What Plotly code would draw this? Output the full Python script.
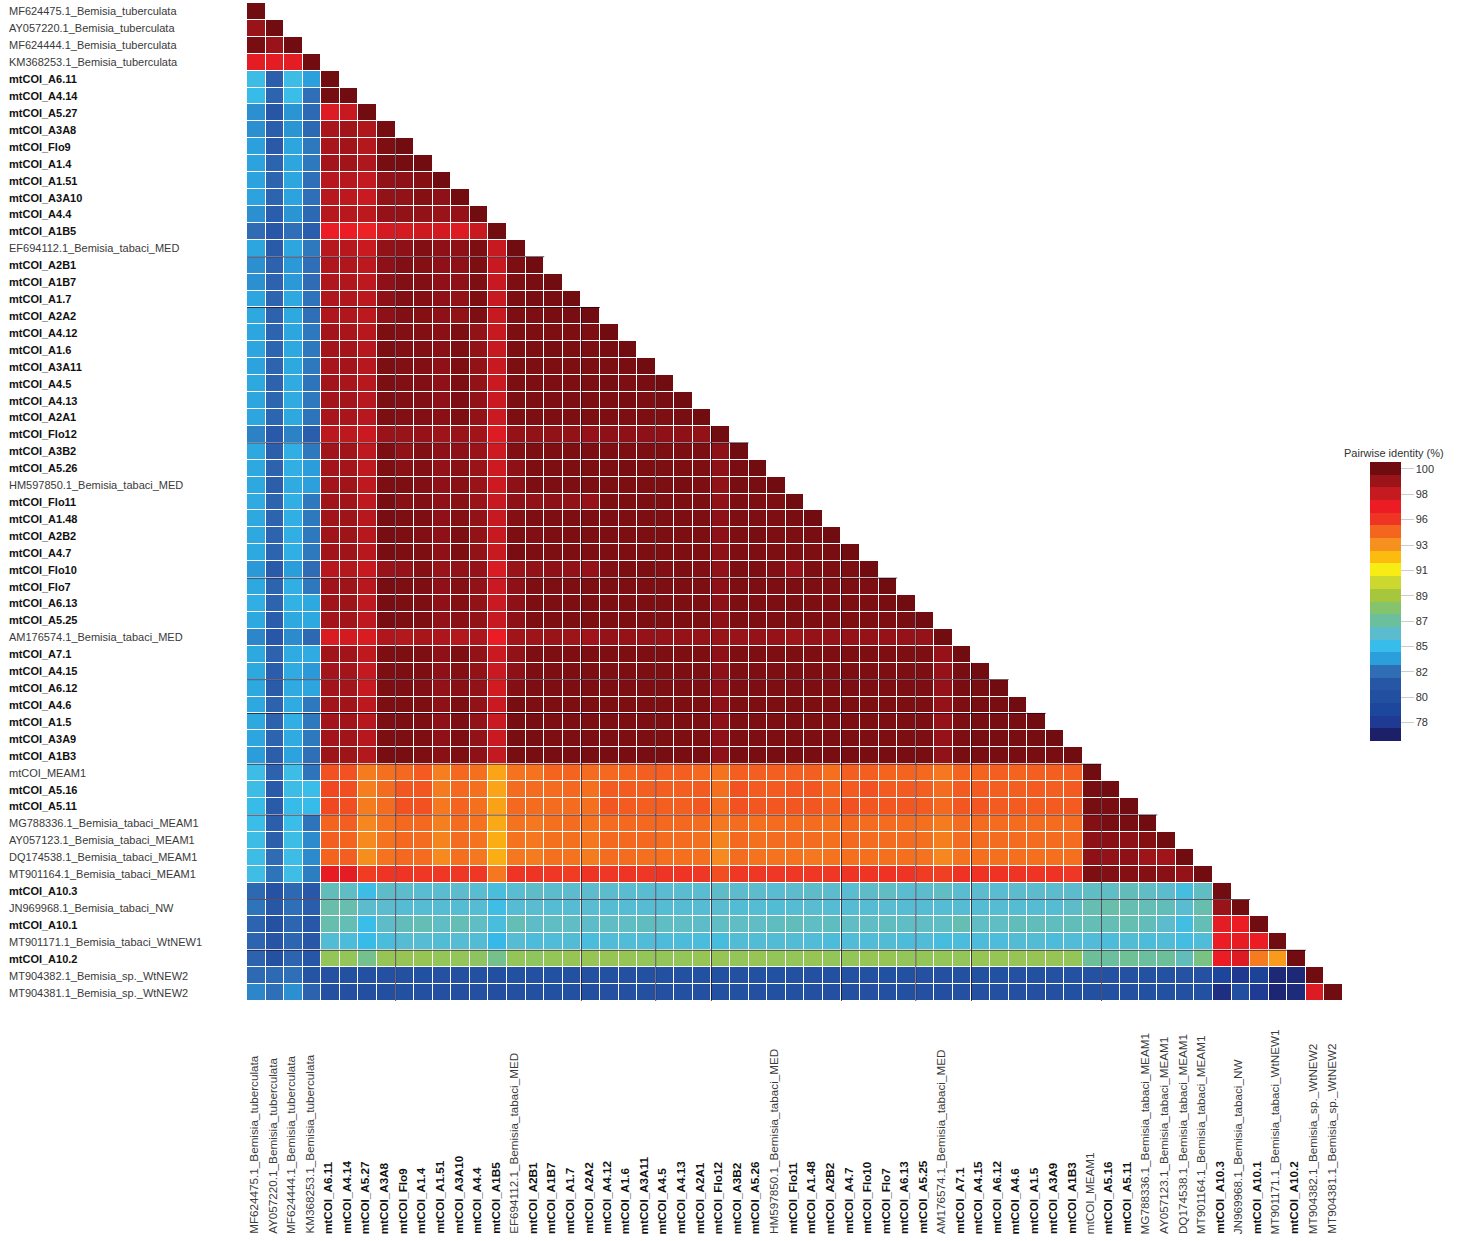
import plotly.graph_objects as go

W, H = 1461, 1241
FONT = "Liberation Sans, Arial, sans-serif"

labels = [
 "MF624475.1_Bemisia_tuberculata","AY057220.1_Bemisia_tuberculata","MF624444.1_Bemisia_tuberculata","KM368253.1_Bemisia_tuberculata",
 "mtCOI_A6.11","mtCOI_A4.14","mtCOI_A5.27","mtCOI_A3A8","mtCOI_Flo9","mtCOI_A1.4","mtCOI_A1.51","mtCOI_A3A10","mtCOI_A4.4","mtCOI_A1B5",
 "EF694112.1_Bemisia_tabaci_MED","mtCOI_A2B1","mtCOI_A1B7","mtCOI_A1.7","mtCOI_A2A2","mtCOI_A4.12","mtCOI_A1.6","mtCOI_A3A11","mtCOI_A4.5",
 "mtCOI_A4.13","mtCOI_A2A1","mtCOI_Flo12","mtCOI_A3B2","mtCOI_A5.26","HM597850.1_Bemisia_tabaci_MED","mtCOI_Flo11","mtCOI_A1.48","mtCOI_A2B2",
 "mtCOI_A4.7","mtCOI_Flo10","mtCOI_Flo7","mtCOI_A6.13","mtCOI_A5.25","AM176574.1_Bemisia_tabaci_MED","mtCOI_A7.1","mtCOI_A4.15","mtCOI_A6.12",
 "mtCOI_A4.6","mtCOI_A1.5","mtCOI_A3A9","mtCOI_A1B3","mtCOI_MEAM1","mtCOI_A5.16","mtCOI_A5.11","MG788336.1_Bemisia_tabaci_MEAM1",
 "AY057123.1_Bemisia_tabaci_MEAM1","DQ174538.1_Bemisia_tabaci_MEAM1","MT901164.1_Bemisia_tabaci_MEAM1","mtCOI_A10.3","JN969968.1_Bemisia_tabaci_NW",
 "mtCOI_A10.1","MT901171.1_Bemisia_tabaci_WtNEW1","mtCOI_A10.2","MT904382.1_Bemisia_sp._WtNEW2","MT904381.1_Bemisia_sp._WtNEW2",
]
plain_labels = ["mtCOI_MEAM1"]

identity_rows = [
[100],
[99,100],
[99.8,99,100],
[97,97,97,100],
[84.8,81.8,84.8,83.6,100],
[84.6,82,84.7,82.5,99.9,100],
[83.2,81.3,83.3,82.3,97.2,97.8,100],
[83.2,81.8,83.3,82.2,98.6,98.8,98.4,99.9],
[83.6,81.5,83.8,82.7,98.6,98.8,98.3,99.7,100],
[83.7,82,83.8,82.7,98.7,98.8,98.4,99.8,99.9,100],
[83.7,82,83.8,82.5,98.2,98.2,97.9,99.2,99.3,99.5,100],
[83.7,82,83.7,82.5,98.2,98.1,97.7,99.2,99.2,99.5,99.3,100],
[83.2,81.7,83.3,82.2,98.2,98.2,98.1,99.1,99.2,99.2,99,99.1,100],
[82.4,81.4,82.5,81.7,96.8,96.8,96.5,97.4,97.4,97.6,97.5,97.2,97.8,100],
[83.8,81.6,83.8,82.7,98.2,98.2,97.7,99.2,99.3,99.6,99.3,99.3,99.7,97.8,100],
[83.2,81.9,83.4,82.5,98.4,98.4,98.1,99.3,99.6,99.5,99.3,99.3,99.7,97.8,99.7,100],
[83.2,81.9,83.4,82.4,98.4,98.4,98.1,99.3,99.6,99.6,99.3,99.3,99.7,97.8,99.7,99.8,100],
[83.8,82,83.9,82.6,98.4,98.4,98.1,99.3,99.6,99.5,99.3,99.2,99.7,97.8,99.7,99.8,99.8,100],
[83.9,81.9,83.9,82.5,98.4,98.4,98.1,99.3,99.6,99.5,99.3,99.2,99.7,97.8,99.7,99.7,99.8,99.8,100],
[83.8,82,83.8,82.7,98.7,98.6,98.2,99.7,99.6,99.6,99.4,99.7,99.2,97.8,99.7,99.7,99.7,99.7,99.7,100],
[83.8,82.1,83.9,82.7,98.7,98.7,98.2,99.7,99.6,99.6,99.4,99.7,99.2,97.8,99.7,99.7,99.8,99.7,99.7,99.8,100],
[83.7,82,83.9,82.7,98.6,98.7,98.2,99.7,99.6,99.6,99.3,99.7,99.2,97.8,99.7,99.7,99.7,99.7,99.7,99.7,99.8,100],
[83.9,81.9,84,82.6,98.7,98.6,98.2,99.7,99.6,99.6,99.3,99.7,99.2,97.7,99.7,99.7,99.7,99.7,99.7,99.8,99.7,99.8,100],
[83.8,82.1,84,82.7,98.7,98.7,98.2,99.7,99.6,99.6,99.3,99.7,99.2,97.7,99.7,99.7,99.7,99.7,99.7,99.7,99.8,99.7,99.8,100],
[83.8,82.1,83.9,82.6,98.6,98.6,98.2,99.7,99.6,99.6,99.4,99.7,99.2,97.7,99.7,99.7,99.7,99.7,99.7,99.7,99.7,99.7,99.7,99.8,100],
[82.9,81.5,82.9,81.7,98.1,98.1,97.7,99,99,99.1,98.9,99,98.8,97.2,99.1,99.2,99.2,99.2,99.1,99.3,99.3,99.3,99.3,99.3,99.2,100],
[83.9,81.8,84.1,82.7,98.8,98.8,98,99.7,99.2,99.6,99.3,99.3,99,97.6,99.6,99.7,99.7,99.7,99.7,99.7,99.7,99.7,99.7,99.7,99.7,99.3,100],
[83.9,81.9,84.1,83.5,98.7,98.7,98,99.7,99.4,99.6,99.2,99.4,99,97.6,99.3,99.7,99.7,99.7,99.7,99.7,99.8,99.7,99.7,99.7,99.7,99.3,99.8,100],
[83.9,81.8,84,83.6,98.7,98.8,98,99.7,99.7,99.6,99.3,99.4,99,97.6,99.3,99.7,99.7,99.7,99.7,99.7,99.7,99.7,99.7,99.8,99.7,99.2,99.8,99.8,100],
[84,82,84.1,82.7,98.8,98.8,98,99.8,99.4,99.6,99.3,99.4,99,97.8,99.3,99.2,99.3,99.2,99.1,99.7,99.7,99.7,99.7,99.7,99.7,99.2,99.7,99.7,99.7,100],
[83.9,82,84.1,82.7,98.8,98.9,98.2,99.8,99.7,99.7,99.3,99.5,99.2,97.8,99.5,99.7,99.7,99.7,99.7,99.7,99.7,99.7,99.7,99.7,99.7,99.3,99.7,99.7,99.7,99.8,100],
[83.9,82,84.1,82.7,98.8,98.9,98.2,99.8,99.7,99.6,99.3,99.7,99.2,97.8,99.7,99.6,99.7,99.7,99.7,99.7,99.7,99.7,99.7,99.7,99.7,99.3,99.7,99.8,99.7,99.7,99.8,100],
[83.9,82,84.1,82.7,98.8,98.9,98.2,99.8,99.7,99.7,99.3,99.7,99.2,97.8,99.8,99.7,99.7,99.7,99.7,99.7,99.7,99.7,99.7,99.7,99.7,99.3,99.7,99.7,99.7,99.7,99.7,99.8,100],
[83.4,81.6,83.5,82.4,98.2,98.3,97.8,99,99.1,99.5,99,99.2,99.1,97.3,99,99.2,99.3,99.2,99.1,99.6,99.7,99.7,99.6,99.7,99.6,99.2,99.7,99.7,99.6,99.1,99.7,99.7,99.7,100],
[83.9,82,84.1,82.7,98.8,98.9,98.2,99.8,99.7,99.7,99.3,99.5,99.2,97.7,99.3,99.7,99.7,99.7,99.7,99.7,99.7,99.7,99.7,99.7,99.7,99.3,99.7,99.7,99.7,99.7,99.7,99.7,99.7,99.7,100],
[84.1,82,84.2,83.9,98.8,98.9,98,99.8,99.7,99.7,99.3,99.5,99.2,97.7,99.3,99.7,99.7,99.7,99.7,99.7,99.7,99.7,99.7,99.7,99.7,99.3,99.7,99.7,99.7,99.7,99.7,99.7,99.7,99.7,99.8,100],
[83.9,81.7,83.9,83.9,98.7,98.8,98,99.8,99.7,99.7,99.2,99.4,99.2,97.8,99.3,99.7,99.7,99.7,99.7,99.7,99.7,99.7,99.7,99.7,99.7,99.3,99.7,99.7,99.7,99.7,99.7,99.7,99.7,99.7,99.7,99.8,100],
[83,81.4,83.1,82.2,97.3,97.5,97.3,98.4,98.3,98.6,98.5,98.3,98.5,96.8,98.8,98.9,99,98.9,98.8,99.1,99.1,99.1,99.1,99.1,99.1,99,99,99.1,99.1,98.9,99.1,99.1,99.1,99.1,99.1,99.1,99.1,100],
[83.9,81.9,84,84,98.8,98.8,98,99.7,99.7,99.7,99.3,99.7,99.2,97.7,99.2,99.7,99.7,99.7,99.7,99.7,99.7,99.7,99.7,99.7,99.7,99.3,99.7,99.7,99.7,99.7,99.7,99.7,99.7,99.7,99.7,99.7,99.7,99.1,100],
[83.9,81.7,84,83.4,98.7,98.7,97.9,99.7,99.7,99.7,99.3,99.5,99.2,97.7,99.3,99.7,99.7,99.7,99.7,99.7,99.7,99.7,99.7,99.7,99.7,99.3,99.7,99.7,99.7,99.7,99.7,99.7,99.7,99.7,99.7,99.7,99.7,99.1,99.8,100],
[83.9,81.6,84,83.8,98.7,98.7,97.8,99.7,99.7,99.6,99.2,99.4,99.2,97.5,99.5,99.7,99.7,99.7,99.7,99.7,99.7,99.7,99.7,99.7,99.7,99.3,99.7,99.7,99.7,99.7,99.7,99.7,99.7,99.7,99.7,99.7,99.7,99.1,99.8,99.8,100],
[83.9,81.9,84,82.7,98.7,98.8,98.1,99.7,99.7,99.7,99.3,99.7,99.2,97.7,99.8,99.7,99.7,99.7,99.7,99.7,99.7,99.7,99.7,99.7,99.7,99.3,99.7,99.7,99.7,99.7,99.7,99.7,99.7,99.7,99.7,99.7,99.7,99.1,99.7,99.8,99.8,100],
[83.9,81.9,84.1,82.7,98.7,98.8,98.2,99.7,99.7,99.7,99.3,99.7,99.2,97.7,99.8,99.8,99.7,99.7,99.7,99.7,99.7,99.7,99.7,99.7,99.7,99.3,99.7,99.7,99.7,99.7,99.7,99.7,99.7,99.7,99.7,99.7,99.7,99.1,99.7,99.8,99.8,99.8,100],
[83.8,82,84,82.7,98.7,98.8,98.2,99.7,99.7,99.7,99.3,99.7,99.2,97.7,99.8,99.8,99.7,99.7,99.7,99.7,99.7,99.7,99.7,99.7,99.7,99.3,99.7,99.7,99.7,99.7,99.7,99.7,99.7,99.7,99.7,99.7,99.7,99.1,99.7,99.8,99.8,99.8,99.9,100],
[83.5,81.8,83.7,82.5,98.9,98.9,98.3,99.8,99.8,99.7,99.4,99.7,99.3,97.9,99.8,99.8,99.8,99.8,99.8,99.8,99.8,99.8,99.8,99.8,99.8,99.3,99.8,99.8,99.8,99.8,99.8,99.8,99.8,99.8,99.8,99.8,99.8,99.2,99.8,99.8,99.8,99.8,99.8,99.8,100],
[84.8,81.9,84.8,82.6,95,95,94,94.3,94.5,94.8,93.9,94.5,94.3,92.9,94.2,94.2,94.6,94.6,94.4,94.5,94.6,94.7,94.7,94.7,94.5,94.2,94.7,94.7,94.7,94.7,94.7,94.3,94.7,94.7,94.6,94.6,94.5,94.1,94.6,94.6,94.7,94.6,94.7,94.7,94.7,100],
[84.8,81.6,84.8,84.7,95.2,95.1,93.9,94.4,94.9,94.9,94,94.5,94.3,92.9,94.4,94.4,94.4,94.5,94.3,94.8,94.8,94.7,94.7,94.7,94.8,94.3,95,94.8,94.8,94.9,94.9,94.6,94.8,95,94.8,94.8,94.7,94.4,94.8,94.8,94.7,94.7,94.8,94.7,94.8,99.8,100],
[84.6,81.6,84.6,84.6,95.2,95.1,94,94.4,95,95,94.1,94.6,94.3,93,94.5,94.4,94.4,94.4,94.3,94.9,94.8,94.7,94.7,94.7,94.9,94.4,95,94.9,94.9,94.9,94.9,94.7,95,94.9,94.9,94.9,94.8,94.5,94.9,94.9,94.8,94.8,94.8,94.8,94.8,99.8,99.8,100],
[84.7,81.8,84.7,82.6,94.6,94.7,93.7,94.2,94.5,94.5,93.9,94.4,94.2,92.8,94.2,94.1,94.3,94.4,94.2,94.4,94.5,94.5,94.5,94.5,94.4,94.1,94.4,94.3,94.4,94.4,94.4,94.3,94.5,94.4,94.4,94.4,94.3,94,94.4,94.4,94.4,94.4,94.4,94.4,94.4,99.5,99.8,99.8,100],
[84.8,81.8,84.8,83.1,94.7,94.6,93.6,94.2,94.5,94.4,93.8,94.4,94.2,92.7,94.2,94.1,94.3,94.3,94.1,94.5,94.5,94.5,94.4,94.4,94.3,93.8,94.5,94.3,94.4,94.4,94.4,94.3,94.5,94.4,94.4,94.4,94.3,93.9,94.4,94.4,94.4,94.4,94.4,94.4,94.4,99.3,99.4,99.3,99.5,100],
[84.8,82.4,84.8,83.1,94.6,94.7,93.5,94.2,94.5,94.4,93.6,94.3,94.1,92.7,94.1,94,94.3,94.2,94,94.4,94.4,94.3,94.3,94.3,94.3,93.6,94.4,94.2,94.2,94.2,94.1,94.2,94.3,94.3,94.3,94.3,94.2,93.7,94.2,94.3,94.3,94.3,94.3,94.3,94.3,99.3,99.2,99.3,98.9,98.8,100],
[84.9,82.6,84.9,82.8,96.9,97,95.5,95.7,95.7,95.6,95.6,95.6,95.6,94.1,95.7,95.7,95.6,95.5,95.7,95.6,95.7,95.6,95.7,95.7,95.6,95.1,95.6,95.6,95.6,95.6,95.6,95.6,95.7,95.7,95.8,95.7,95.5,95.4,95.8,95.8,95.8,95.7,95.7,95.8,95.6,99.7,99.6,99.5,99.5,99.4,99.1,100],
[82.2,80.8,82.2,81.4,86.2,86,84.8,85.9,85.8,85.7,85.7,85.8,85.7,85.2,85.7,85.9,85.8,85.8,85.8,85.8,85.7,85.7,85.7,85.7,85.7,85.9,85.8,85.8,85.7,85.8,85.9,85.8,85.7,85.9,86,85.7,85.8,86,85.7,85.8,85.7,85.8,85.8,85.8,85.8,86,86,86.2,86,85.8,85.1,86,100],
[82.6,81.4,82.5,81.7,86.6,86.5,85.8,85.8,85.6,85.6,85.6,85.6,85.6,84.9,85.6,85.7,85.6,85.6,85.7,85.6,85.6,85.6,85.6,85.6,85.6,85.7,85.5,85.6,85.5,85.6,85.7,85.6,85.6,85.6,85.7,85.6,85.6,85.6,85.6,85.6,85.6,85.6,85.6,85.6,85.9,86.4,86.6,86.4,86.3,86.2,85.7,86.5,99,100],
[82,80.6,82.1,81.4,86.5,86.3,84.7,85.9,86.2,86.3,86,86.3,86,85.2,86.3,85.9,86,86,85.9,86,86,86.1,86,86,85.9,86,86,86,86.1,86.2,86,86.1,86,86,86.1,86,86,86,86.4,86,86,86.2,86.2,86.1,86.2,86.3,86.3,86.4,86.2,85.8,85,86.3,97,96.8,100],
[82,81.1,82.1,81.4,85.5,85.3,84.6,85.2,85.6,85.6,85.5,85.6,85.5,84.5,85.6,85.3,85.4,85.5,85.2,85.4,85.4,85.4,85.3,85.3,85.2,85.1,85.5,85.5,85.5,85.5,85.4,85.3,85.4,85.4,85.5,85.3,85.4,85.1,85.2,85.3,85.3,85.5,85.5,85.3,85.4,85.4,85.3,85.5,85.3,85.4,85,85.4,96.8,96.9,96.8,100],
[81.9,80.6,82,81.3,88.4,88.4,87.2,88.5,88.5,88.5,88.4,88.4,88.2,87.2,88.4,88.3,88.4,88.5,88.5,88.5,88.5,88.4,88.4,88.4,88.5,88.5,88.4,88.5,88.4,88.4,88.5,88.4,88.4,88.5,88.5,88.4,88.4,88.4,88.4,88.5,88.5,88.5,88.5,88.5,88.4,86.9,86.8,87,86.8,86.9,86.2,87.4,96.8,97.2,94,93.2,100],
[82.3,82.3,82.5,81,80.6,80.5,80.4,80.4,80.4,80.5,80.6,80.4,80.5,80.3,80.5,80.5,80.5,80.5,80.4,80.5,80.4,80.5,80.5,80.5,80.5,80.5,80.5,80.5,80.5,80.5,80.4,80.5,80.6,80.5,80.5,80.5,80.6,80.4,80.5,80.5,80.5,80.6,80.5,80.6,80.7,80.7,80.6,80.6,80.7,80.7,80.8,80.6,79,78,78.8,77.3,77.3,100],
[83,82.5,83.2,81.9,80.4,80.4,80.3,80.2,80.5,80.4,80.4,80.2,80.4,80.2,80.4,80.5,80.5,80.5,80.2,80.4,80.4,80.4,80.4,80.5,80.4,80.5,80.5,80.4,80.5,80.5,80.4,80.4,80.4,80.4,80.4,80.5,80.4,80.2,80.4,80.4,80.4,80.4,80.4,80.4,80.5,80.5,80.5,80.4,80.5,80.5,80.5,80.5,77.6,80.2,78.1,77.2,77.4,97.2,100],
]

# colour bands of the legend, from the top (100) to the bottom
band_colors = ["#6f0c10","#9b1419","#c41a20","#ed1c24","#ee3524","#f4661f","#f6901e","#fdbb10","#f7ec13","#ccd72f","#a6c63d",
               "#85c46c","#6cbf9c","#5bbccf","#38bdea","#2a9fdc","#2f6db5","#2856a6","#224f9f","#1c479c","#1f3a93","#1c2069"]
z_min, z_max = 76.4, 100.6
legend_tickvals = [100, 97.8, 95.6, 93.4, 91.2, 89, 86.8, 84.6, 82.4, 80.2, 78]
legend_ticktext = ["100","98","96","93","91","89","87","85","82","80","78"]

# cell boundaries that read darker in the reference
dark_row_edges = [15, 18, 26, 34, 40, 42, 45, 48, 53, 56]
dark_col_edges = [8, 18, 22, 25, 32, 36, 39, 46]

n = len(labels)
z = [row + [None] * (n - len(row)) for row in identity_rows]

m = len(band_colors)
rev_colors = list(reversed(band_colors))
smooth_scale = [[0.0, rev_colors[0]]] + [[(i + 0.5) / m, c] for i, c in enumerate(rev_colors)] + [[1.0, rev_colors[-1]]]
step_scale = []
for i, c in enumerate(rev_colors):
    step_scale += [[i / m, c], [(i + 1) / m, c]]

fig = go.Figure()
fig.add_trace(go.Heatmap(z=z, x=list(range(n)), y=list(range(n)), colorscale=smooth_scale, zmin=z_min, zmax=z_max,
                         xgap=1, ygap=1, showscale=False, hoverongaps=False))
# legend-only trace: its cells lie outside the axis ranges, it carries the stepped colour bar
fig.add_trace(go.Heatmap(z=[[z_min, z_max]], x=[n + 50, n + 51], y=[n + 50], colorscale=step_scale, zmin=z_min, zmax=z_max, hoverinfo="skip",
                         colorbar=dict(x=1370 / W, xanchor="left", xpad=0, y=1 - 462 / H, yanchor="top", ypad=0,
                                       lenmode="pixels", len=279, thicknessmode="pixels", thickness=31, outlinewidth=0,
                                       tickmode="array", tickvals=legend_tickvals, ticktext=legend_ticktext,
                                       ticks="outside", ticklen=13, tickcolor="#cccccc", tickwidth=1,
                                       tickfont=dict(family=FONT, size=11, color="#333333"))))

def fmt(name):
    return name if (name in plain_labels or not name.startswith("mtCOI")) else f"<b>{name}</b>"

anns = []
for i, name in enumerate(labels):
    col = "#3a3a3a" if not name.startswith("mtCOI") or name in plain_labels else "#111111"
    anns.append(dict(text=fmt(name), xref="paper", yref="y", x=7 / W, y=i, xanchor="left", yanchor="middle", showarrow=False,
                     font=dict(family=FONT, size=11, color=col)))
    anns.append(dict(text=fmt(name), xref="x", yref="paper", x=i, y=1 - 1236 / H, xanchor="center", yanchor="bottom", showarrow=False,
                     textangle=-90, xshift=-3, font=dict(family=FONT, size=11.7, color=col)))
anns.append(dict(text="Pairwise identity (%)", xref="paper", yref="paper", x=1393.5 / W, y=1 - 453 / H, xanchor="center", yanchor="middle",
                 showarrow=False, font=dict(family=FONT, size=11, color="#333333")))

shapes = []
for k in dark_row_edges:
    shapes.append(dict(type="line", xref="x", yref="y", x0=-0.5, x1=k + 0.5, y0=k - 0.5, y1=k - 0.5,
                       line=dict(color="rgba(25,0,25,0.7)", width=1)))
for k in dark_col_edges:
    shapes.append(dict(type="line", xref="x", yref="y", x0=k - 0.5, x1=k - 0.5, y0=k - 0.5, y1=n - 0.5,
                       line=dict(color="rgba(25,0,25,0.7)", width=1)))

fig.update_layout(width=W, height=H, margin=dict(l=0, r=0, t=0, b=0), paper_bgcolor="white", plot_bgcolor="white",
                  annotations=anns, shapes=shapes, showlegend=False,
                  xaxis=dict(domain=[247 / W, 1343 / W], range=[-0.5, n - 0.5], visible=False),
                  yaxis=dict(domain=[1 - 1001 / H, 1 - 3 / H], range=[n - 0.5, -0.5], visible=False))

fig.write_html("out.html", config={"displayModeBar": False},
               post_script="document.body.style.margin='0';document.body.style.overflow='hidden';")
